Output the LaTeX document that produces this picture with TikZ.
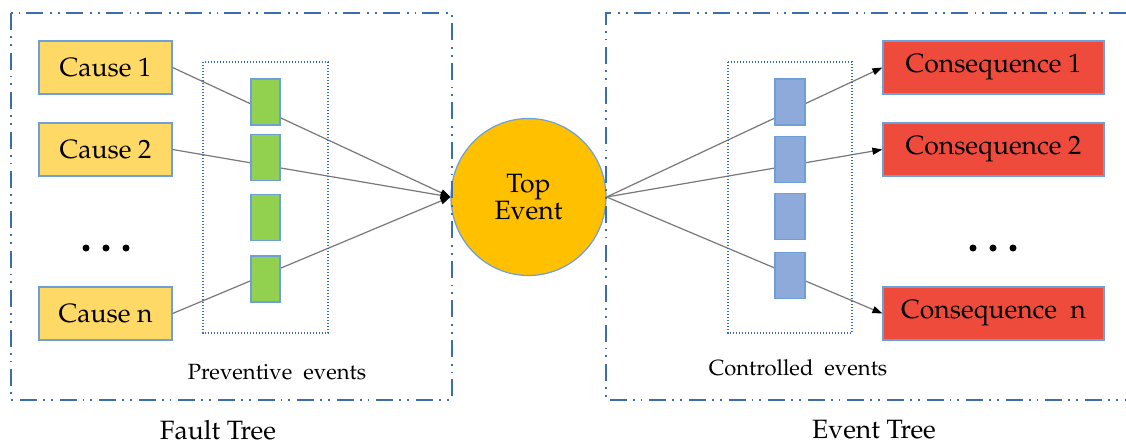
\documentclass[tikz,border=0pt]{standalone}
\usepackage[T1]{fontenc}
\usepackage{mathpazo}
\usetikzlibrary{arrows.meta,shapes.geometric}

\definecolor{framecol}{RGB}{60,110,175}
\definecolor{edgecol}{RGB}{110,160,215}
\definecolor{causefill}{RGB}{255,217,102}
\definecolor{greenfill}{RGB}{146,208,80}
\definecolor{bluefill}{RGB}{142,170,219}
\definecolor{redfill}{RGB}{238,75,60}
\definecolor{topfill}{RGB}{255,192,0}
\definecolor{conncol}{RGB}{120,120,120}

\tikzset{
  bigtext/.style={font=\fontsize{26.5}{30}\selectfont},
  smalltext/.style={font=\fontsize{22}{26}\selectfont},
  causebox/.style={draw=edgecol, line width=1.2pt, fill=causefill, minimum width=133pt, minimum height=53pt, inner sep=0pt, bigtext},
  consbox/.style={draw=edgecol, line width=1.2pt, fill=redfill, minimum width=221pt, minimum height=53pt, inner sep=0pt, bigtext},
  barrier/.style={draw=edgecol, line width=1.2pt, minimum width=29pt, minimum height=46pt, inner sep=0pt},
  conn/.style={draw=conncol, line width=1.2pt},
  tip/.style={-{Triangle[length=10pt,width=7pt,fill=black,color=black]}},
  treeframe/.style={draw=framecol, line width=2pt, dash pattern=on 17pt off 6pt on 1.8pt off 6pt on 1.8pt off 7pt},
  groupbox/.style={draw=framecol, line width=1.4pt, dash pattern=on 1.4pt off 1.6pt},
  dot/.style={circle, fill=black, inner sep=0pt, minimum size=7pt}
}

\begin{document}
\begin{tikzpicture}[x=1pt, y=-1pt]
\useasboundingbox (0,0) rectangle (1126,447);

% causes on the fault tree side
\node[causebox] (c1) at (105.5,67.5) {Cause 1};
\node[causebox] (c2) at (105.5,149.5) {Cause 2};
\node[causebox] (cn) at (105.5,313.5) {Cause n};
\node[dot] (ld1) at (86,248) {};
\node[dot] (ld2) at (106,248) {};
\node[dot] (ld3) at (126,248) {};

% top event
\node[ellipse, draw=edgecol, line width=1.2pt, fill=topfill, minimum width=155pt, minimum height=157pt, inner sep=0pt, bigtext, align=center] (top) at (528.5,197) {Top\\[-3pt]Event};

% consequences on the event tree side
\node[consbox] (q1) at (993.5,67.5) {Consequence 1};
\node[consbox] (q2) at (993.5,149.5) {Consequence 2};
\node[consbox] (qn) at (993.5,313.5) {Consequence\ \ n};
\node[dot] (rd1) at (973,248) {};
\node[dot] (rd2) at (993,248) {};
\node[dot] (rd3) at (1013,248) {};

% connectors
\draw[conn, tip] (c1.east) -- (top.west);
\draw[conn, tip] (c2.east) -- (top.west);
\draw[conn, tip] (cn.east) -- (top.west);
\draw[conn, tip] (top.east) -- (q1.west);
\draw[conn, tip] (top.east) -- (q2.west);
\draw[conn, tip] (top.east) -- (qn.west);

% preventive barriers
\node[barrier, fill=greenfill] (p1) at (265.5,102) {};
\node[barrier, fill=greenfill] (p2) at (265.5,157.5) {};
\node[barrier, fill=greenfill] (p3) at (265.5,217.5) {};
\node[barrier, fill=greenfill] (p4) at (265.5,279) {};

% control barriers
\node[barrier, fill=bluefill, minimum width=30pt] (k1) at (790,102) {};
\node[barrier, fill=bluefill, minimum width=30pt] (k2) at (790,159.5) {};
\node[barrier, fill=bluefill, minimum width=30pt] (k3) at (790,216.5) {};
\node[barrier, fill=bluefill, minimum width=30pt] (k4) at (790,275.5) {};

% barrier groups
\draw[groupbox] (203,62) rectangle (328,333);
\draw[groupbox] (728,62) rectangle (852,333);
\node[smalltext] (plabel) at (277,372) {Preventive\ \ events};
\node[smalltext] (klabel) at (798,368) {Controlled\ \ events};

% tree frames
\draw[treeframe] (11,13) rectangle (452,400);
\draw[treeframe] (1126,13) -- (606,13) -- (606,400) -- (1126,400);
\node[bigtext] (ft) at (218,430) {Fault Tree};
\node[bigtext] (et) at (874,430) {Event Tree};
\end{tikzpicture}
\end{document}
